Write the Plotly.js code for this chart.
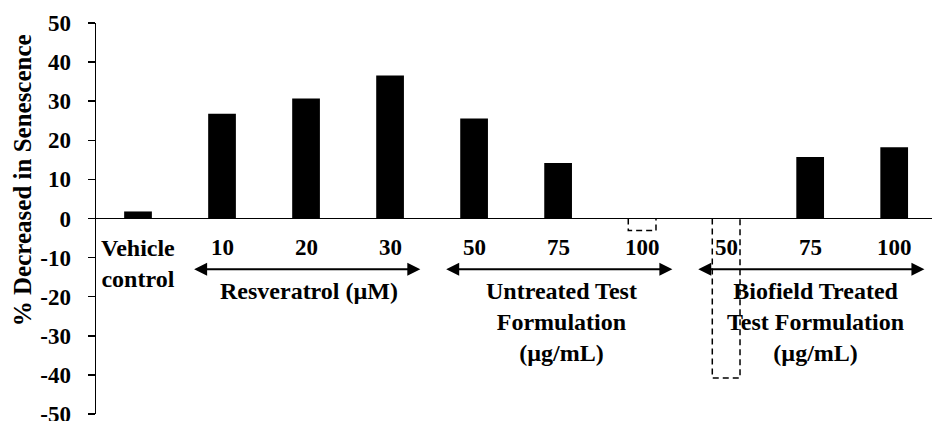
<!DOCTYPE html>
<html>
<head>
<meta charset="utf-8">
<script src="https://cdn.plot.ly/plotly-3.0.1.min.js"></script>
<style>html,body{margin:0;padding:0;background:#fff;}#chart{width:932px;height:421px;}</style>
</head>
<body>
<div id="chart"></div>
<script>
// ---- data ----
const categories = ["Vehicle<br>control", "10", "20", "30", "50", "75", "100", "50", "75", "100"];
const values = [1.8, 26.8, 30.7, 36.6, 25.6, 14.2, -3.1, -40.8, 15.7, 18.2];
const groupLabels = ["Resveratrol (µM)", "Untreated Test<br>Formulation<br>(µg/mL)", "Biofield Treated<br>Test Formulation<br>(µg/mL)"];
const groupFirst = [1, 4, 7];
const groupLast = [3, 6, 9];
const yTickVals = [-50, -40, -30, -20, -10, 0, 10, 20, 30, 40, 50];
const yTitle = "% Decreased in Senescence";

// ---- build ----
const FONT = "Times New Roman";
const xIdx = categories.map((_, i) => i);
const barW = 0.33;
const posX = [], posY = [];
xIdx.forEach(i => { if (values[i] >= 0) { posX.push(i); posY.push(values[i]); } });

const traces = [{
  type: "bar", x: posX, y: posY, width: barW,
  marker: {color: "#000"}, hoverinfo: "y", showlegend: false
}];
// negative values drawn as dashed open boxes
xIdx.forEach(i => {
  if (values[i] < 0) {
    const x0 = i - barW / 2, x1 = i + barW / 2;
    traces.push({
      type: "scatter", mode: "lines",
      x: [x0, x0, x1, x1], y: [0, values[i], values[i], 0],
      line: {color: "#000", width: 1.5, dash: "6px,4px"},
      showlegend: false, hoverinfo: "skip", cliponaxis: false
    });
  }
});

const annotations = [];
categories.forEach((c, i) => {
  const isWord = /[A-Za-z]/.test(c);
  annotations.push({
    x: i, y: 0, xref: "x", yref: "y", text: c, showarrow: false,
    yanchor: "top", yshift: -14, align: "center",
    font: {family: FONT, size: isWord ? 24 : 23, color: "#000", weight: "bold"}
  });
});
const xMax = 9.45;
groupLabels.forEach((g, k) => {
  const a = groupFirst[k] - 0.35;
  const b = Math.min(groupLast[k] + 0.36, xMax);
  annotations.push({
    x: b, y: -13, ax: a, ay: -13, xref: "x", yref: "y", axref: "x", ayref: "y",
    text: "", showarrow: true, arrowside: "end+start",
    arrowhead: 2, startarrowhead: 2, arrowsize: 1.3, startarrowsize: 1.3,
    arrowwidth: 2, arrowcolor: "#000", standoff: 0, startstandoff: 0
  });
  annotations.push({
    x: (a + b) / 2 + (k === 2 ? 0.06 : 0.03), y: 0, xref: "x", yref: "y", text: g, showarrow: false,
    yanchor: "top", yshift: -57, align: "center",
    font: {family: FONT, size: 24, color: "#000", weight: "bold"}
  });
});
// y-axis title (placed as in the reference, above the plot's centre)
annotations.push({
  x: 0, y: 0.598, xref: "paper", yref: "paper", xshift: -74,
  xanchor: "center", yanchor: "middle", textangle: -90,
  text: yTitle, showarrow: false,
  font: {family: FONT, size: 25, color: "#000", weight: "bold"}
});

const layout = {
  width: 932, height: 421,
  margin: {l: 96, r: 0, t: 23, b: 7},
  paper_bgcolor: "#fff", plot_bgcolor: "#fff",
  showlegend: false,
  font: {family: FONT, color: "#000"},
  xaxis: {
    range: [-0.5, xMax], showticklabels: false, showline: false,
    showgrid: false, zeroline: false, ticks: "", fixedrange: true
  },
  yaxis: {
    range: [-50, 50], tickvals: yTickVals, ticktext: yTickVals.map(String),
    showline: true, linecolor: "#000", linewidth: 1.5,
    ticks: "outside", ticklen: 7, tickwidth: 1.5, tickcolor: "#000",
    showgrid: false, zeroline: true, zerolinecolor: "#000", zerolinewidth: 1.5,
    ticklabeloverflow: "allow", ticklabelstandoff: 12,
    tickfont: {family: FONT, size: 23, color: "#000", weight: "bold"},
    automargin: false, fixedrange: true
  },
  annotations: annotations
};
Plotly.newPlot("chart", traces, layout, {displayModeBar: false, staticPlot: true});
</script>
</body>
</html>
